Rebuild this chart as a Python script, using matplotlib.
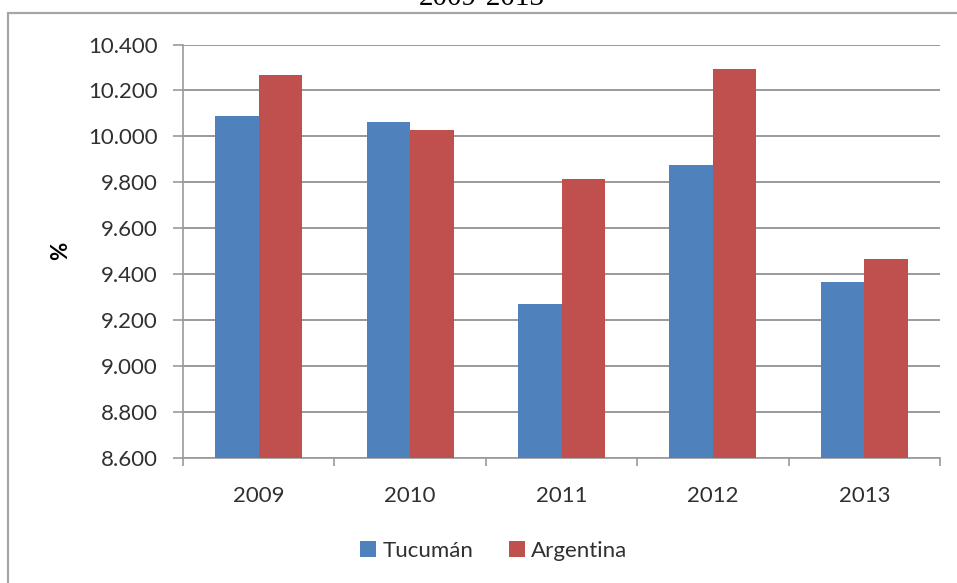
"""
Bar chart: Tucumán vs Argentina, 2009-2013

"""
import numpy as np
import matplotlib
import matplotlib.pyplot as plt
from matplotlib.patches import Rectangle

matplotlib.use("Agg")

years = ["2009", "2010", "2011", "2012", "2013"]
tucuman = [10087, 10061, 9271, 9877, 9368]
argentina = [10267, 10027, 9816, 10294, 9465]
series_names = ["Tucumán", "Argentina"]
y_ticks = [8600, 8800, 9000, 9200, 9400, 9600, 9800, 10000, 10200, 10400]

BLUE = "#4F81BD"
RED = "#C0504D"
GRID = "#9a9a9a"
TEXT = "#303030"


def fmt(v: float) -> str:
    # thousands separator as a dot, like the original spreadsheet
    return f"{v:,.0f}".replace(",", ".")


def main():
    W, H = 957, 583
    fig = plt.figure(figsize=(W / 100, H / 100), dpi=100)
    plt.rcParams["font.family"] = ["Lato", "DejaVu Sans"]

    # outer chart frame (cut by the image on the right and bottom)
    frame = Rectangle(
        (8 / W, -0.05), 1.2, 1.05 - 13.5 / H,
        transform=fig.transFigure, fill=False, edgecolor="#a6a6a6",
        linewidth=1.6, clip_on=False,
    )
    fig.patches.append(frame)

    # title, mostly cut off at the top (as in the source image)
    fig.text(482 / W, 1 - 5 / H, "2009-2013", ha="center", va="baseline",
             family="Liberation Serif", fontsize=21, color="black")

    ax = fig.add_axes([183 / W, 1 - 458 / H, (940 - 183) / W, (458 - 44.5) / H])

    x = np.arange(len(years))
    width = 0.287
    ax.bar(x - width / 2, tucuman, width, color=BLUE, label=series_names[0], zorder=3)
    ax.bar(x + width / 2, argentina, width, color=RED, label=series_names[1], zorder=3)

    ax.set_xlim(-0.5, len(years) - 0.5)
    ax.set_ylim(y_ticks[0], y_ticks[-1])

    ax.set_yticks(y_ticks)
    ax.set_yticklabels([fmt(v) for v in y_ticks])
    ax.tick_params(axis="y", direction="out", length=7, width=1.2, color=GRID,
                   labelsize=16, labelcolor=TEXT, pad=11)
    ax.yaxis.grid(True, color=GRID, linewidth=1.4, zorder=0)

    # category boundaries get the ticks, the labels sit in the middle
    ax.set_xticks(np.arange(len(years) + 1) - 0.5)
    ax.set_xticklabels([])
    ax.tick_params(axis="x", which="major", direction="out", length=6, width=1.2, color=GRID)
    ax.set_xticks(x, minor=True)
    ax.set_xticklabels(years, minor=True)
    ax.tick_params(axis="x", which="minor", length=0, labelsize=16, labelcolor=TEXT, pad=20)

    for side in ["top", "right"]:
        ax.spines[side].set_visible(False)
    for side in ["left", "bottom"]:
        ax.spines[side].set_color(GRID)
        ax.spines[side].set_linewidth(1.2)

    ax.set_ylabel("%", fontsize=16, fontweight="bold", color="black")
    ax.yaxis.set_label_coords(-112 / (940 - 183), 0.5)

    fig.legend(loc="center", bbox_to_anchor=(494 / W, 1 - 551 / H), ncol=2,
               frameon=False, fontsize=16, handlelength=0.7, handleheight=0.7,
               handletextpad=0.3, columnspacing=1.6, labelcolor=TEXT)

    fig.savefig("out.png", dpi=100)


if __name__ == "__main__":
    main()
